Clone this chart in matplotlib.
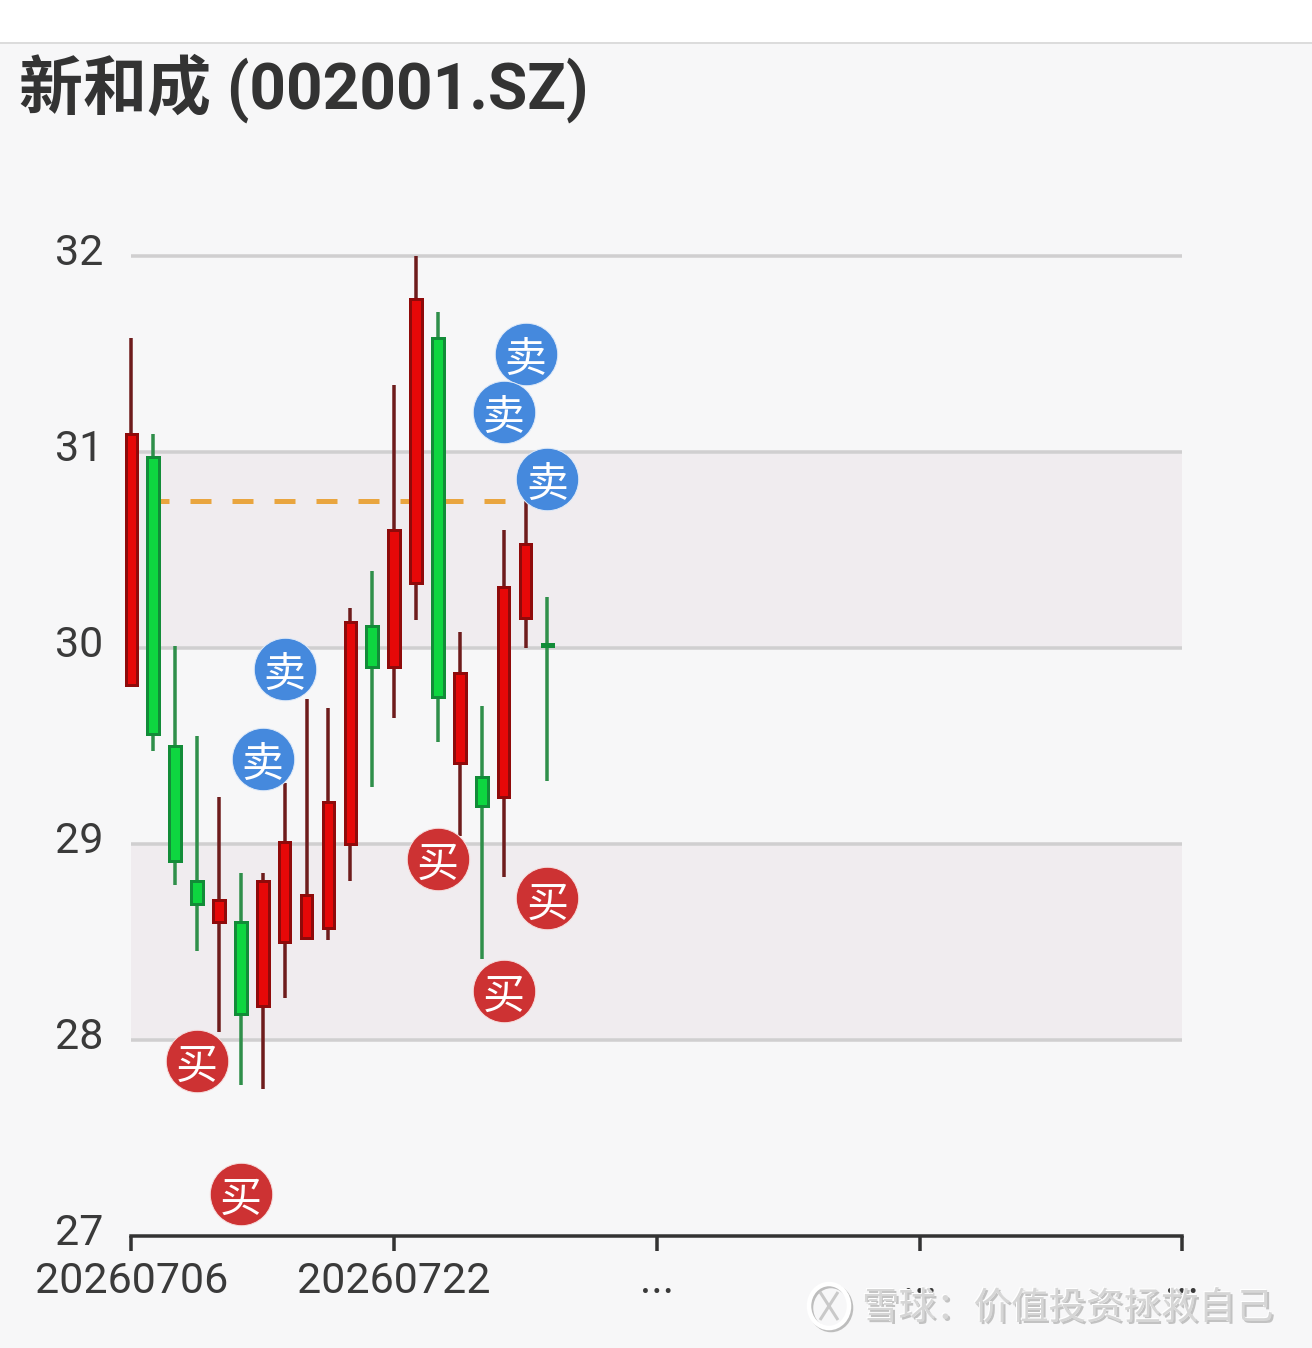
import matplotlib
matplotlib.use("Agg")
import matplotlib.pyplot as plt
from matplotlib.patches import Rectangle, Ellipse, PathPatch
from matplotlib.path import Path

plt.rcParams['font.family'] = ['Noto Sans CJK SC', 'DejaVu Sans']

TITLE = "新和成 (002001.SZ)"
WATERMARK = "雪球：价值投资拯救自己"
opens  = [29.81,30.97,29.50,28.81,28.60,28.60,28.17,28.50,28.52,28.57,29.00,30.11,29.90,30.33,31.58,29.41,29.34,29.24,30.15,30.02]
closes = [31.09,29.56,28.91,28.69,28.71,28.13,28.81,29.01,28.74,29.21,30.13,29.90,30.60,31.78,29.75,29.87,29.19,30.31,30.53,30.01]
highs  = [31.58,31.09,30.01,29.55,29.24,28.85,28.85,29.31,29.74,29.69,30.20,30.39,31.34,32.00,31.71,30.08,29.70,30.60,30.75,30.26]
lows   = [29.81,29.47,28.79,28.45,28.04,27.77,27.75,28.21,28.52,28.51,28.81,29.29,29.64,30.14,29.52,29.04,28.41,28.83,30.00,29.32]
sell_idx = [7, 6, 18, 17, 19]
sell_px  = [29.89, 29.43, 31.50, 31.20, 30.86]
buy_idx  = [3, 5, 14, 17, 19]
buy_px   = [27.89, 27.21, 28.92, 28.25, 28.72]
bands = [(30, 31), (28, 29)]
ref_level = 30.75
ref_start, ref_end = 1, 18
yticks = [27, 28, 29, 30, 31, 32]
xticks = [0, 12, 24, 36, 48]
xlabels = ["20260706", "20260722", "...", "...", "..."]

W, H = 1312, 1348
BG = "#f7f7f8"
fig = plt.figure(figsize=(W/100, H/100), dpi=100, facecolor=BG)
px = 72/100

fig.add_artist(Rectangle((0, 1-42/H), 1, 42/H, transform=fig.transFigure, fc="#ffffff", ec="none"))
fig.add_artist(Rectangle((0, 1-43.5/H), 1, 1.5/H, transform=fig.transFigure, fc="#dcdcdc", ec="none"))

L, R, T, B = 131.4, 1182.4, 255.6, 1235.6
ax = fig.add_axes([L/W, 1-B/H, (R-L)/W, (B-T)/H], facecolor="none")
ax.set_xlim(0, 48)
ax.set_ylim(27, 32)

for lo, hi in bands:
    ax.axhspan(lo, hi, fc="#f0ecef", ec="none", zorder=0)
for y in yticks[1:]:
    ax.plot([0, 48], [y, y], color="#d0cfd0", lw=3.5*px, zorder=1, solid_capstyle="butt", clip_on=False)
ax.plot([ref_start, ref_end], [ref_level, ref_level], color="#e9a53f", lw=5*px,
        linestyle=(1.0, (4.2, 4.2)), dash_capstyle="butt", zorder=2)

for i, (o, c, h, l) in enumerate(zip(opens, closes, highs, lows)):
    up = c > o
    wick = "#6e1c1c" if up else "#2f8f4a"
    face = "#e60808" if up else "#0ed640"
    edge = "#8f0a0a" if up else "#128c38"
    ax.vlines(i, l, h, color=wick, lw=3.5*px, zorder=3, clip_on=False)
    ax.bar(i, abs(c-o), bottom=min(o, c), width=0.53, color=face, edgecolor=edge,
           linewidth=3*px, zorder=4, clip_on=False)

def markers(idx, prices, color, halo, label):
    ax.scatter(idx, prices, s=(62.5*px)**2, color=color, edgecolor=halo, linewidth=1*px,
               zorder=6, clip_on=False)
    for i, p in zip(idx, prices):
        ax.text(i, p-0.03, label, color="#ffffff", fontsize=42*px, ha="center", va="center", zorder=7)

markers(sell_idx, sell_px, "#4589dd", "#dfeaf8", "卖")
markers(buy_idx, buy_px, "#cd3233", "#f6dddd", "买")

for s in ["top", "left", "right"]:
    ax.spines[s].set_visible(False)
ax.spines["bottom"].set_color("#333333")
ax.spines["bottom"].set_linewidth(3.5*px)
ax.set_yticks(yticks)
ax.set_yticklabels([str(v) for v in yticks], fontsize=43*px, color="#3a3a3a", family="Roboto")
ax.tick_params(axis="y", length=0, pad=28*px)
for lab in ax.get_yticklabels():
    lab.set_verticalalignment("center")
    lab.set_transform(lab.get_transform() + matplotlib.transforms.ScaledTranslation(0, 2/100, fig.dpi_scale_trans))
ax.set_xticks(xticks)
ax.set_xticklabels(xlabels, fontsize=43*px, color="#3a3a3a", family="Roboto")
ax.tick_params(axis="x", length=15*px, width=3.5*px, color="#333333", pad=10.5*px)

fig.text(19/W, 1-88/H, TITLE, fontsize=64*px, fontweight="bold", color="#333333",
         ha="left", va="center", family=["Roboto", "Noto Sans CJK SC"])

# watermark: white highlight under a light grey face
for dx, col, z in [(2.0, "#c2c2c2", 10), (-1.0, "#ffffff", 11), (0.0, "#d6d6d6", 12)]:
    fig.text((861+dx)/W, 1-(1308+dx)/H, WATERMARK, fontsize=37.5*px, color=col, ha="left", va="center", zorder=z)

# watermark logo
for dx, col, z in [(2.0, "#bdbdbd", 10), (0.0, "#ffffff", 11)]:
    fig.add_artist(Ellipse(((829+dx)/W, 1-(1306+dx)/H), 40/W, 44/H, transform=fig.transFigure, fc="none",
                           ec=col, lw=4.5*px, zorder=z))
verts = [(820, 1292), (838, 1320), (838, 1292), (820, 1320)]
codes = [Path.MOVETO, Path.LINETO, Path.MOVETO, Path.LINETO]
fig.add_artist(PathPatch(Path([(x/W, 1-y/H) for x, y in verts], codes), transform=fig.transFigure,
                         fc="none", ec="#c9c9c9", lw=3*px, zorder=12))

fig.savefig("out.png", dpi=100, facecolor=BG)
